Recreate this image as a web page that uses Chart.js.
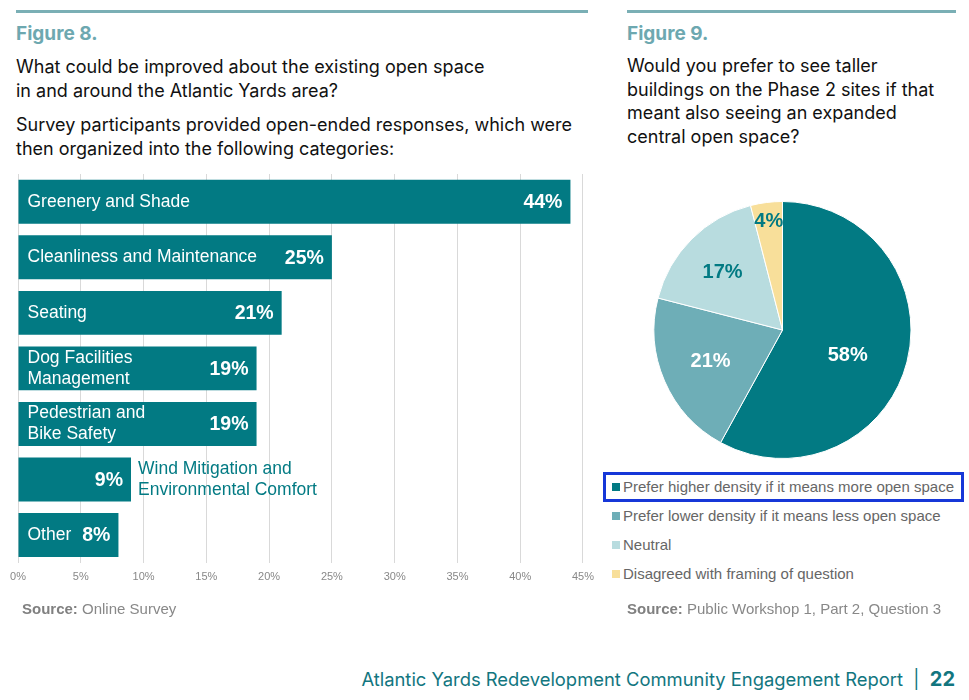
<!DOCTYPE html>
<html>
<head>
<meta charset="utf-8">
<script src="https://cdn.jsdelivr.net/npm/chart.js@4.4.0/dist/chart.umd.min.js"></script>
<style>
  body { margin: 0; background: #fff; width: 969px; height: 700px; position: relative; overflow: hidden; font-family: "Liberation Sans", Arial, sans-serif; }
  .abs { position: absolute; }
  .rule { position: absolute; height: 3px; background: #7aafb5; top: 10px; }
  .fig { font-family: Inter, sans-serif; font-weight: 700; font-size: 19px; color: #6da8b0; }
  .q { font-family: Inter, sans-serif; font-size: 18px; color: #111; line-height: 23.5px; }
  .src { font-size: 15px; color: #888; }
  .src b { color: #808080; }
  .leg { font-size: 15px; color: #666; white-space: nowrap; }
  .leg i { display: inline-block; width: 8px; height: 8px; margin-right: 3px; vertical-align: 1px; }
  .footer { font-family: Inter, sans-serif; font-size: 18.4px; color: #12767f; white-space: nowrap; }
  .footer b { font-size: 20px; }
</style>
</head>
<body>
<div class="rule" style="left:16px;width:572px"></div>
<div class="rule" style="left:627px;width:329px"></div>

<div class="abs fig" style="left:16px;top:22px">Figure 8.</div>
<div class="abs q" style="left:16px;top:55px">What could be improved about the existing open space<br>in and around the Atlantic Yards area?</div>
<div class="abs q" style="left:16px;top:113px">Survey participants provided open-ended responses, which were<br>then organized into the following categories:</div>

<div class="abs fig" style="left:627px;top:22px">Figure 9.</div>
<div class="abs q" style="left:627px;top:54px">Would you prefer to see taller<br>buildings on the Phase 2 sites if that<br>meant also seeing an expanded<br>central open space?</div>

<div class="abs" style="left:0;top:165px;width:602px;height:436px"><canvas id="barChart"></canvas></div>
<div class="abs" style="left:640px;top:190px;width:285px;height:280px"><canvas id="pieChart"></canvas></div>

<div class="abs" style="left:603px;top:472px;width:355px;height:24px;border:3px solid #1637d8"></div>
<div id="legend"></div>

<div class="abs src" style="left:22px;top:600px"><b>Source:</b> Online Survey</div>
<div class="abs src" style="left:627px;top:600px"><b>Source:</b> Public Workshop 1, Part 2, Question 3</div>

<div class="abs footer" style="right:14px;top:667px">Atlantic Yards Redevelopment Community Engagement Report &nbsp;|&nbsp; <b>22</b></div>

<script>
// Figure 8 data
const categories = [
  ["Greenery and Shade"],
  ["Cleanliness and Maintenance"],
  ["Seating"],
  ["Dog Facilities", "Management"],
  ["Pedestrian and", "Bike Safety"],
  ["Wind Mitigation and", "Environmental Comfort"],
  ["Other"]
];
const improveValues = [44, 25, 21, 19, 19, 9, 8];
const xTickValues = [0, 5, 10, 15, 20, 25, 30, 35, 40, 45];

// Figure 9 data
const pieLabels = [
  "Prefer higher density if it means more open space",
  "Prefer lower density if it means less open space",
  "Neutral",
  "Disagreed with framing of question"
];
const pieValues = [58, 21, 17, 4];

const teal = '#027a83';
const pieColors = ['#027a83', '#6eaeb7', '#b8dcdf', '#f8df9a'];
const labelFont = '"Liberation Sans", Arial, sans-serif';

// labels inside / beside bars
const barLabels = {
  id: 'barLabels',
  afterDatasetsDraw(chart) {
    const ctx = chart.ctx;
    chart.getDatasetMeta(0).data.forEach((bar, i) => {
      const lines = categories[i];
      const valText = improveValues[i] + '%';
      ctx.save();
      ctx.font = 'bold 19.5px ' + labelFont;
      const vw = ctx.measureText(valText).width;
      ctx.font = '17.5px ' + labelFont;
      const lw = Math.max(...lines.map(l => ctx.measureText(l).width));
      const inside = bar.base + 9 + lw + 10 + vw + 8 <= bar.x;
      const lh = 21;
      const y0 = bar.y - (lines.length - 1) * lh / 2;
      ctx.textBaseline = 'middle';
      ctx.textAlign = 'left';
      ctx.fillStyle = inside ? '#fff' : teal;
      const lx = inside ? bar.base + 9 : bar.x + 7;
      lines.forEach((l, k) => ctx.fillText(l, lx, y0 + k * lh));
      ctx.font = 'bold 19.5px ' + labelFont;
      ctx.textAlign = 'right';
      ctx.fillStyle = '#fff';
      ctx.fillText(valText, bar.x - 8, bar.y + 1);
      ctx.restore();
    });
  }
};

new Chart(document.getElementById('barChart'), {
  type: 'bar',
  data: {
    labels: categories,
    datasets: [{
      data: improveValues,
      backgroundColor: teal,
      categoryPercentage: 1,
      barPercentage: 0.79
    }]
  },
  options: {
    indexAxis: 'y',
    responsive: true,
    maintainAspectRatio: false,
    animation: false,
    layout: { padding: { left: 18, right: 4, top: 9, bottom: 9 } },
    plugins: { legend: { display: false }, tooltip: { enabled: false } },
    scales: {
      y: { display: false },
      x: {
        min: 0, max: 45,
        afterBuildTicks: axis => { axis.ticks = xTickValues.map(v => ({ value: v })); },
        grid: { color: '#d9d9d9', drawTicks: false },
        border: { display: false },
        ticks: {
          padding: 8,
          color: '#888',
          font: { family: labelFont, size: 11 },
          callback: v => v + '%'
        }
      }
    }
  },
  plugins: [barLabels]
});

// percentage labels on slices
const labelRadius = [0.54, 0.61, 0.66, 0.85];
const labelShift = [[-2, 8], [0, 0], [0, 2], [0, 0]];
const labelColors = ['#fff', '#fff', teal, teal];
const pieText = {
  id: 'pieText',
  afterDatasetsDraw(chart) {
    const ctx = chart.ctx;
    chart.getDatasetMeta(0).data.forEach((arc, i) => {
      const mid = (arc.startAngle + arc.endAngle) / 2;
      const r = arc.outerRadius * labelRadius[i];
      ctx.save();
      ctx.font = 'bold 20px ' + labelFont;
      ctx.fillStyle = labelColors[i];
      ctx.textAlign = 'center';
      ctx.textBaseline = 'middle';
      ctx.fillText(pieValues[i] + '%',
        arc.x + Math.cos(mid) * r + labelShift[i][0],
        arc.y + Math.sin(mid) * r + labelShift[i][1]);
      ctx.restore();
    });
  }
};

new Chart(document.getElementById('pieChart'), {
  type: 'pie',
  data: {
    labels: pieLabels,
    datasets: [{
      data: pieValues,
      backgroundColor: pieColors,
      borderColor: '#fff',
      borderWidth: 1
    }]
  },
  options: {
    responsive: true,
    maintainAspectRatio: false,
    animation: false,
    layout: { padding: 11 },
    plugins: { legend: { display: false }, tooltip: { enabled: false } }
  },
  plugins: [pieText]
});

// legend below the pie
const legend = document.getElementById('legend');
pieLabels.forEach((name, i) => {
  const row = document.createElement('div');
  row.className = 'abs leg';
  row.style.left = '612px';
  row.style.top = (478 + i * 29) + 'px';
  row.innerHTML = '<i style="background:' + pieColors[i] + '"></i>' + name;
  legend.appendChild(row);
});
</script>
</body>
</html>
